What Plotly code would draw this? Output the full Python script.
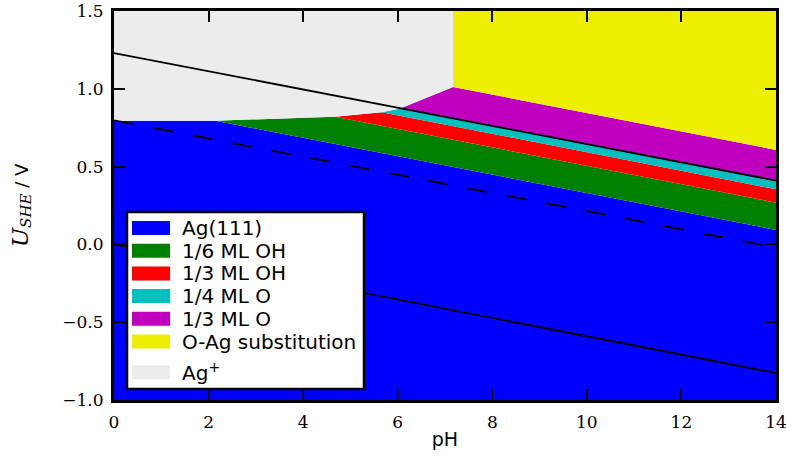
import plotly.graph_objects as go

# Phase regions (pH, U_SHE vertices)
phase_names = ["Ag(111)", "1/6 ML OH", "1/3 ML OH", "1/4 ML O", "1/3 ML O",
               "O-Ag substitution", "Ag<sup>+</sup>"]
phase_colors = ["#0000ff", "#008000", "#ff0000", "#00bfbf", "#bf00bf",
                "#eeee00", "#ececec"]

ag111_ph = [0, 14, 14, 2.14, 0]
ag111_u = [-1.0, -1.0, 0.093, 0.795, 0.795]
oh16_ph = [2.14, 14, 14, 4.67]
oh16_u = [0.795, 0.093, 0.268, 0.821]
oh13_ph = [4.67, 14, 14, 5.66]
oh13_u = [0.821, 0.268, 0.354, 0.850]
o14_ph = [5.66, 14, 14, 6.05]
o14_u = [0.850, 0.354, 0.403, 0.874]
o13_ph = [6.05, 14, 14, 7.17]
o13_u = [0.874, 0.403, 0.607, 1.012]
oag_ph = [7.17, 14, 14, 7.17]
oag_u = [1.012, 0.607, 1.5, 1.5]
agp_ph = [0, 7.17, 7.17, 6.05, 5.66, 4.67, 2.14, 0]
agp_u = [1.5, 1.5, 1.012, 0.874, 0.850, 0.821, 0.795, 0.795]

phase_ph = [ag111_ph, oh16_ph, oh13_ph, o14_ph, o13_ph, oag_ph, agp_ph]
phase_u = [ag111_u, oh16_u, oh13_u, o14_u, o13_u, oag_u, agp_u]

# Reference lines
line_ph = [0, 14]
o2_u = [1.23, 0.41]
h2_u = [0.0, -0.827]
dash_u = [0.797, -0.02]

x_ticks = [0, 2, 4, 6, 8, 10, 12, 14]
y_ticks = [-1.0, -0.5, 0.0, 0.5, 1.0, 1.5]

# ---- layout constants (pixels) ----
W, H = 786, 470
ML, MR, MT, MB = 114, 10, 11, 70
PW, PH = W - ML - MR, H - MT - MB


def px_x(p):
    return (p - ML) / PW


def px_y(p):
    return (H - MB - p) / PH


fig = go.Figure()
for name, col, px_, pu in zip(phase_names, phase_colors, phase_ph, phase_u):
    fig.add_trace(go.Scatter(x=px_, y=pu, fill="toself", fillcolor=col,
                             mode="lines", line=dict(width=0, color=col),
                             name=name, hoverinfo="skip", showlegend=False))

fig.add_trace(go.Scatter(x=line_ph, y=o2_u, mode="lines",
                         line=dict(color="black", width=1.8), showlegend=False))
fig.add_trace(go.Scatter(x=line_ph, y=h2_u, mode="lines",
                         line=dict(color="black", width=1.8), showlegend=False))
fig.add_trace(go.Scatter(x=line_ph, y=dash_u, mode="lines",
                         line=dict(color="black", width=1.8, dash="20px,20px"),
                         showlegend=False))

# ---- manual legend (rectangular patches like the reference) ----
shapes = []
annotations = []
box_l, box_r, box_t, box_b = 127, 364, 212, 389
shapes.append(dict(type="rect", xref="paper", yref="paper",
                   x0=px_x(box_l), x1=px_x(box_r), y0=px_y(box_b), y1=px_y(box_t),
                   fillcolor="white", line=dict(color="black", width=2.5), layer="above"))
patch_l, patch_r, patch_h = 132, 170, 14
text_x = 180
row0, row_step = 228, 22.7
for i, (name, col) in enumerate(zip(phase_names, phase_colors)):
    cy = row0 + i * row_step
    if i == len(phase_names) - 1:
        cy += 8
    shapes.append(dict(type="rect", xref="paper", yref="paper",
                       x0=px_x(patch_l), x1=px_x(patch_r),
                       y0=px_y(cy + patch_h / 2), y1=px_y(cy - patch_h / 2),
                       fillcolor=col, line=dict(width=0), layer="above"))
    annotations.append(dict(xref="paper", yref="paper", x=px_x(text_x), y=px_y(cy),
                            xanchor="left", yanchor="middle", showarrow=False,
                            text=name,
                            font=dict(family="DejaVu Sans, sans-serif", size=20,
                                      color="black")))

tickfont = dict(family="DejaVu Serif, serif", size=17, color="black")
axis_common = dict(showgrid=False, zeroline=False, showline=True, linewidth=3,
                   linecolor="black", mirror="allticks", ticks="inside",
                   ticklen=11, tickwidth=1.5, tickcolor="black", tickfont=tickfont,
                   automargin=False, ticklabeloverflow="allow")

fig.update_layout(
    width=W, height=H,
    margin=dict(l=ML, r=MR, t=MT, b=MB),
    paper_bgcolor="white", plot_bgcolor="white",
    showlegend=False,
    shapes=shapes, annotations=annotations,
    xaxis=dict(range=[0, 14], tickvals=x_ticks, ticklabelstandoff=5, **axis_common,
               title=dict(text="pH", font=dict(family="DejaVu Sans, sans-serif",
                                               size=19, color="black"), standoff=2)),
    yaxis=dict(range=[-1.0, 1.5], tickvals=y_ticks, tickformat=".1f",
               ticklabelstandoff=4, **axis_common,
               title=dict(text="<span style='font-family:DejaVu Serif;font-size:23px'><i>U</i></span>"
                               "<sub><span style='font-family:DejaVu Serif;font-size:15px'><i>SHE</i></span></sub> / V",
                          font=dict(family="DejaVu Sans, sans-serif", size=18, color="black"),
                          standoff=30)),
)

fig.write_html("out.html")
